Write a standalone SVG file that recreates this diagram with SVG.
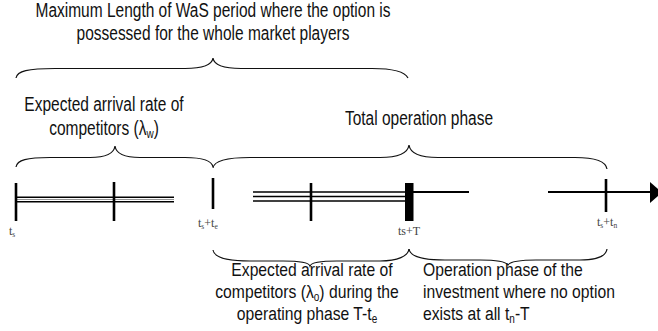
<svg xmlns="http://www.w3.org/2000/svg" width="658" height="331" viewBox="0 0 658 331">
<style>
.lbl{font-family:"Liberation Sans",Arial,sans-serif;font-size:15.5px;fill:#111}
.big{font-family:"Liberation Sans",Arial,sans-serif;font-size:15.7px;fill:#111}
.tm{font-family:"Liberation Serif","Times New Roman",serif;font-size:12px;fill:#444}
.brace{fill:none;stroke:#111;stroke-width:1.2}
.tick{stroke:#000;stroke-width:2.6}
.ln{stroke:#000;stroke-width:1.4}
.ln2{stroke:#000;stroke-width:2.2}
.gr{stroke:#888;stroke-width:0.9}
</style>
<rect width="658" height="331" fill="#fff"/>

<g id="connectors">
  <path class="brace" d="M16,78 C17,71 28,68.5 55,68.5 L185,68.5 C204,68.5 212,65 213,58 C214,65 222,68.5 241,68.5 L372,68.5 C394,68.5 405,72 408,78"/>
  <path class="brace" d="M16,167 C17,160 27,157.5 50,157.5 L90,157.5 C108,157.5 114,153 115,146 C116,153 122,157.5 140,157.5 L185,157.5 C203,157.5 212,161 213,167"/>
  <path class="brace" d="M213,168 C214,161 225,157.5 250,157.5 L380,157.5 C400,157.5 408,152 409,145 C410,152 418,157.5 438,157.5 L575,157.5 C597,157.5 606,162 607,169"/>
  <path class="brace" d="M213,250 C214,257 225,261 250,261 L283,261 C302,261 309,263 310,266 C311,263 318,261 337,261 L380,261 C398,261 408,256 409,249"/>
  <path class="brace" d="M409,249 C410,256 420,260 445,260 L480,260 C498,260 506,262 508,265 C510,262 518,260 536,260 L580,260 C598,260 606,256 607,249"/>
</g>

<g id="timeline">
  <line class="ln" x1="17" y1="197.3" x2="174" y2="197.3"/>
  <line class="gr" x1="17" y1="199.5" x2="174" y2="199.5"/>
  <line class="ln" x1="17" y1="201.7" x2="174" y2="201.7"/>
  <line class="ln" x1="253" y1="192" x2="406" y2="192"/>
  <line class="ln" x1="253" y1="196.5" x2="406" y2="196.5"/>
  <line class="ln" x1="253" y1="201" x2="406" y2="201"/>
  <line class="ln2" x1="406" y1="192" x2="469" y2="192"/>
  <line class="ln2" x1="548" y1="192" x2="652" y2="192"/>
  <polygon points="650,182 650,203 662,192.5" fill="#000"/>
  <line class="tick" x1="16" y1="183" x2="16" y2="221"/>
  <line class="tick" x1="114" y1="182" x2="114" y2="221"/>
  <line class="tick" x1="213" y1="178" x2="213" y2="209"/>
  <line class="tick" x1="311" y1="183" x2="311" y2="221"/>
  <rect x="405" y="183" width="8.5" height="38" fill="#000"/>
  <line class="tick" x1="606" y1="179" x2="606" y2="212"/>
</g>

<g id="time-labels">
  <text class="tm" x="9" y="235">t<tspan font-size="7.5" dy="2">s</tspan></text>
  <text class="tm" x="198" y="227">t<tspan font-size="7.5" dy="2">s</tspan><tspan dy="-2">+t</tspan><tspan font-size="7.5" dy="2">e</tspan></text>
  <text class="tm" x="398" y="235" font-size="12.5">ts+T</text>
  <text class="tm" x="597" y="226">t<tspan font-size="7.5" dy="2">s</tspan><tspan dy="-2">+t</tspan><tspan font-size="7.5" dy="2">n</tspan></text>
</g>

<g id="max-length">
  <text class="lbl" text-anchor="middle" transform="translate(213,17) scale(1,1.25)"><tspan x="0" y="0">Maximum Length of WaS period where the option is</tspan><tspan x="0" dy="18.4">possessed for the whole market players</tspan></text>
</g>

<g id="arrival-w">
  <text class="lbl" text-anchor="middle" transform="translate(104,110.5) scale(1,1.3)"><tspan x="0" y="0">Expected arrival rate of</tspan><tspan x="0" dy="18.6">competitors (λ<tspan font-size="10" dy="2.5">w</tspan><tspan dy="-2.5">)</tspan></tspan></text>
</g>

<g id="total-operation">
  <text class="lbl" text-anchor="middle" transform="translate(419,125) scale(1,1.3)">Total operation phase</text>
</g>

<g id="arrival-o">
  <text class="big" text-anchor="middle" transform="translate(0,276) scale(1,1.2)"><tspan x="312" y="0">Expected arrival rate of</tspan><tspan x="307" dy="18.3">competitors (λ<tspan font-size="10" dy="2.5">o</tspan><tspan dy="-2.5">) during the</tspan></tspan><tspan x="307" dy="18.3">operating phase T-t<tspan font-size="10" dy="2.5">e</tspan></tspan></text>
</g>

<g id="no-option">
  <text class="big" transform="translate(423,276) scale(1,1.2)"><tspan x="0" y="0">Operation phase of the</tspan><tspan x="0" dy="18.3">investment where no option</tspan><tspan x="0" dy="18.3">exists at all t<tspan font-size="10" dy="2.5">n</tspan><tspan dy="-2.5">-T</tspan></tspan></text>
</g>
</svg>
